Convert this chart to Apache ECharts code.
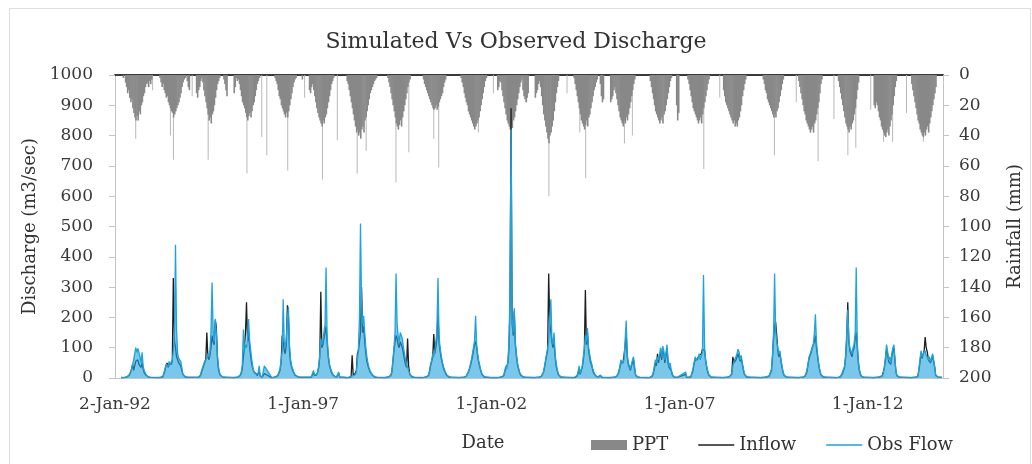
<!DOCTYPE html>
<html>
<head>
<meta charset="utf-8">
<script src="https://cdn.jsdelivr.net/npm/echarts@6/dist/echarts.min.js"></script>
<style>
  html, body { margin: 0; padding: 0; background: #fff; }
  #chart { width: 1032px; height: 464px; }
</style>
</head>
<body>
<div id="chart"></div>
<script>
// one row per year, values every 10 days (1st, 11th, 21st) from 1 March to 21 December
var years = [1992, 1993, 1994, 1995, 1996, 1997, 1998, 1999, 2000, 2001, 2002,
  2003, 2004, 2005, 2006, 2007, 2008, 2009, 2010, 2011, 2012, 2013]

// rainfall, mm (right axis, hanging from the top)
var pptMm = [
  [0,0,2,0,5,8,12,10,15,18,16,22,25,28,30,27,30,24,26,20,18,14,12,8,6,5,8,4,6,3],
  [0,2,5,8,6,10,12,15,14,18,20,22,24,25,28,26,24,22,20,18,15,12,8,5,3,2,0,4,8,10],
  [12,15,10,8,4,2,5,10,14,18,22,26,30,28,32,26,24,20,15,10,6,4,2,0,0,0,3,6,10,14],
  [12,8,2,4,3,6,10,14,18,20,22,25,28,30,27,25,28,24,20,18,14,10,6,4,2,0,0,0,0,0],
  [0,0,0,2,4,6,10,14,16,20,22,24,26,28,25,28,24,20,16,12,8,5,3,2,0,0,0,0,0,3],
  [10,12,8,6,10,14,18,22,25,28,30,32,34,30,32,28,26,22,18,14,10,6,4,2,0,0,0,0,0,0],
  [4,6,10,14,18,22,26,30,34,38,36,40,38,42,36,34,38,30,28,24,20,16,12,10,8,6,4,3,2,0],
  [0,0,0,2,5,8,12,16,20,24,28,32,34,36,33,30,34,28,24,20,16,12,8,5,3,0,0,0,0,0],
  [0,3,6,8,10,12,14,16,18,20,22,23,22,20,23,21,18,16,14,12,8,5,3,0,0,0,0,0,0,0],
  [0,2,5,8,12,15,18,20,24,26,28,30,32,34,36,34,32,30,28,24,20,16,12,8,4,2,0,0,0,0],
  [10,8,4,5,10,14,18,22,26,30,32,34,36,33,35,30,28,24,20,16,12,8,5,3,10,14,16,18,15,12],
  [15,12,10,6,4,8,14,20,26,30,34,38,42,45,40,38,34,30,24,18,12,8,4,0,0,0,0,0,0,0],
  [0,2,6,10,14,18,22,26,30,32,34,36,33,30,34,28,26,22,18,14,10,8,5,3,0,0,6,14,18,16],
  [18,16,14,10,8,12,16,20,24,28,30,32,34,30,32,28,30,26,22,18,14,10,6,3,0,0,0,0,0,0],
  [0,0,4,8,12,16,20,24,26,28,30,32,30,28,32,26,24,20,16,12,8,4,2,0,0,0,0,20,30,25],
  [0,0,3,6,10,14,18,22,24,26,28,30,32,30,28,32,26,22,18,14,10,6,3,0,0,0,0,0,0,0],
  [10,14,18,20,22,24,26,28,30,32,30,34,32,34,30,28,24,20,14,10,6,3,0,0,0,0,0,0,0,0],
  [0,0,3,6,10,12,16,18,20,22,24,26,28,26,28,24,22,18,14,10,6,3,0,0,0,0,0,0,0,0],
  [4,8,12,16,20,24,26,30,32,34,36,38,36,34,38,32,30,26,22,18,12,6,3,0,0,0,0,0,0,0],
  [0,0,4,8,12,16,20,24,28,32,34,36,38,34,36,32,30,26,22,16,10,5,0,0,0,0,0,0,0,0],
  [20,22,18,20,24,28,30,34,36,38,40,41,38,36,40,34,30,26,20,14,8,4,0,0,0,0,0,0,0,0],
  [6,10,14,18,22,26,30,32,36,38,40,41,38,40,36,34,38,32,28,24,20,16,12,8,0,0,0,0,0,0]
]

// single wet days that stand out below the dense rain
var pptSpikeDates = ['1992-07-21','1992-11-20','1993-01-01','1993-06-23','1993-07-22','1994-01-20',
  '1994-06-24','1995-07-05','1995-11-26','1996-01-14','1996-08-04','1997-01-15','1997-07-07',
  '1997-11-28','1998-06-09','1998-09-04','1999-06-20','1999-10-23','2000-06-21','2000-08-08',
  '2001-08-28','2002-01-20','2002-12-10','2003-07-13','2004-01-05','2004-05-08','2004-07-04',
  '2005-07-15','2005-09-30','2007-08-24','2008-01-26','2009-07-09','2010-02-06','2010-09-06',
  '2011-02-07','2011-06-22','2011-09-07','2012-01-30','2012-06-03','2012-08-29','2013-01-11',
  '2013-06-24']
var pptSpikeMm = [42,8,10,40,56,14,56,65,41,53,63,15,69,43,65,50,71,51,42,61,38,12,18,80,12,38,68,
  45,40,62,15,53,18,57,29,53,48,23,44,44,25,44]

// simulated inflow, m3/s
var inflowQ = [
  [1,1,1,2,2,3,4,6,10,18,30,45,25,40,55,50,60,45,40,35,50,30,18,12,8,5,3,2,2,1],
  [1,2,2,3,4,8,25,40,50,35,45,40,45,55,330,120,100,70,60,50,45,40,25,12,6,4,3,2,2,2],
  [2,2,2,3,8,20,30,40,50,60,150,70,60,75,100,140,120,110,190,170,70,30,15,8,5,3,3,2,2,2],
  [1,1,2,2,3,5,8,15,30,70,100,150,250,120,150,100,70,45,30,20,25,15,8,10,20,6,4,3,5,15],
  [1,2,2,3,4,5,8,12,25,50,140,120,90,80,110,240,200,90,50,35,25,18,10,7,5,4,3,3,2,2],
  [2,2,3,10,18,8,6,10,18,35,70,285,100,110,130,150,170,120,70,45,30,20,12,8,5,3,3,4,15,3],
  [1,2,2,3,4,75,10,8,15,25,80,90,120,150,300,150,170,120,80,55,40,30,20,14,10,6,4,3,2,2],
  [1,2,2,3,4,5,8,18,50,90,120,140,130,110,100,120,110,100,80,60,45,35,130,40,12,6,4,3,2,2],
  [1,2,2,3,4,5,8,20,40,55,70,145,80,100,130,210,120,90,65,50,35,25,18,10,6,4,3,2,2,2],
  [1,1,2,2,3,4,5,8,18,28,40,55,70,90,110,120,100,70,50,35,22,12,7,4,3,2,2,2,1,1],
  [1,2,2,3,4,5,7,20,30,25,50,100,250,890,180,140,220,110,70,45,30,18,10,6,4,3,2,2,2,2],
  [1,2,2,2,3,4,5,8,18,35,55,75,90,345,180,150,120,100,120,70,40,25,12,6,4,3,2,2,2,2],
  [1,2,2,3,6,15,30,12,15,35,60,90,290,110,150,90,70,50,40,25,15,10,6,4,3,2,8,3,2,2],
  [1,2,2,2,3,4,5,8,18,35,50,45,50,55,100,150,70,45,35,25,40,50,60,30,8,4,3,2,2,2],
  [1,2,2,3,6,15,30,50,40,80,50,70,85,60,90,80,50,70,100,50,35,40,25,12,5,3,2,2,2,2],
  [12,2,2,2,3,4,8,25,45,60,55,60,65,75,70,80,95,90,90,55,35,20,10,5,3,2,2,2,2,2],
  [1,2,2,2,3,4,5,7,12,70,50,55,60,70,80,75,55,65,45,25,12,6,4,3,2,2,2,2,2,2],
  [1,2,2,2,3,3,4,5,7,9,25,70,130,170,185,140,90,70,80,55,35,18,8,5,3,2,2,2,2,2],
  [1,2,2,2,3,4,5,8,20,45,65,75,85,100,95,120,140,100,70,45,25,12,6,4,3,2,2,2,2,2],
  [1,2,2,3,4,8,15,12,35,70,130,250,120,90,80,70,90,100,130,150,100,50,25,12,5,3,2,2,2,2],
  [1,2,2,2,3,3,4,5,7,12,35,60,95,80,55,60,45,70,90,100,55,18,7,4,3,2,2,2,2,2],
  [1,2,2,2,3,3,5,25,50,80,65,70,90,135,100,85,60,65,50,60,75,70,35,8,4,3,2,2,2,2]
]

// observed flow, m3/s
var obsQ = [
  [2,2,2,3,3,4,5,8,12,20,30,25,60,80,100,85,98,92,70,50,85,40,25,20,10,6,4,3,3,2],
  [2,2,3,3,4,10,30,45,50,40,55,45,50,60,90,150,440,160,80,65,60,55,35,15,8,5,4,3,3,2],
  [2,2,3,4,10,25,35,45,55,60,65,80,70,90,150,315,160,120,195,150,80,40,20,10,6,4,3,3,2,2],
  [2,2,2,3,4,6,10,20,40,160,90,110,100,130,195,120,90,60,35,20,15,12,8,15,40,8,5,4,10,40],
  [2,2,2,3,4,6,10,15,30,60,90,260,120,100,130,200,235,110,60,40,30,20,12,8,6,5,4,3,3,3],
  [3,3,4,15,25,10,8,12,20,40,80,130,110,120,150,180,365,140,80,50,35,25,15,10,6,4,3,5,20,4],
  [2,2,3,4,5,10,8,6,10,20,60,100,200,510,250,180,205,150,100,70,50,35,25,18,12,8,5,4,3,3],
  [2,2,3,3,4,6,10,20,60,100,150,345,180,140,120,150,140,130,100,80,60,45,35,25,15,8,5,4,3,3],
  [2,2,2,3,4,6,10,25,45,60,80,70,90,120,150,330,140,100,75,55,40,30,20,12,8,5,4,3,3,2],
  [2,2,2,3,3,4,6,10,20,30,45,60,80,100,120,205,110,80,55,40,25,15,8,5,4,3,3,2,2,2],
  [2,2,2,3,4,6,8,25,40,30,60,120,300,820,200,150,230,120,80,50,35,20,12,8,5,4,3,3,2,2],
  [2,2,2,3,3,4,6,10,20,40,60,80,100,120,200,260,130,110,150,80,50,30,15,8,5,4,3,3,2,2],
  [2,2,3,4,8,20,40,15,20,40,70,100,140,120,165,100,80,60,45,30,20,12,8,5,4,3,10,4,3,2],
  [2,2,2,3,3,4,6,10,20,40,60,50,55,60,120,190,80,50,40,30,45,60,70,40,10,5,4,3,3,2],
  [2,2,2,3,8,20,40,60,50,70,60,80,100,70,105,90,60,80,110,60,40,50,30,15,6,4,3,3,2,2],
  [20,3,2,3,3,4,10,30,50,70,60,65,70,80,60,75,85,340,100,60,40,25,12,6,4,3,3,2,2,2],
  [2,2,2,3,3,4,5,8,15,40,55,60,70,80,95,85,60,75,50,30,15,8,5,4,3,3,2,2,2,2],
  [2,2,2,3,3,4,5,6,8,10,30,80,150,345,160,120,100,80,90,60,40,20,10,6,4,3,3,2,2,2],
  [2,2,2,3,3,4,6,10,25,50,70,80,90,100,110,150,210,120,80,50,30,15,8,5,4,3,3,2,2,2],
  [2,2,2,3,4,10,20,15,40,80,150,225,130,100,90,80,100,110,150,365,120,60,30,15,6,4,3,3,2,2],
  [2,2,2,3,3,4,5,6,8,15,40,70,110,90,60,70,50,80,100,110,60,20,8,5,4,3,3,2,2,2],
  [2,2,2,3,3,4,6,30,60,90,70,80,85,90,75,80,60,70,55,65,80,75,40,10,5,4,3,3,2,2]
]

var tickDates = ['1992-01-02', '1997-01-01', '2002-01-01', '2007-01-01', '2012-01-01']
var tickLabels = ['2-Jan-92', '1-Jan-97', '1-Jan-02', '1-Jan-07', '1-Jan-12']

function parseDay(s) {
  var p = s.split('-')
  return new Date(+p[0], +p[1] - 1, +p[2]).getTime()
}
function dekad(year, i) {
  return new Date(year, 2 + Math.floor(i / 3), 1 + 10 * (i % 3)).getTime()
}

var pptData = [], inflowData = [], obsData = []
for (var y = 0; y < years.length; y++) {
  for (var i = 0; i < 30; i++) {
    var t = dekad(years[y], i)
    pptData.push([t, pptMm[y][i]])
    inflowData.push([t, inflowQ[y][i]])
    obsData.push([t, obsQ[y][i]])
  }
}
var spikeData = pptSpikeDates.map(function (d, k) { return [parseDay(d), pptSpikeMm[k]] })
var tickTimes = tickDates.map(parseDay)

var xMin = parseDay('1992-01-02')
var xMax = parseDay('2013-12-31')
var font = 'DejaVu Serif'
var txt = '#3a3a3a'
var lineIcon = 'path://M0,0 L36,0 L36,1.6 L0,1.6 Z'

var chart = echarts.init(document.getElementById('chart'))
chart.setOption({
  animation: false,
  backgroundColor: '#fff',
  graphic: [{
    type: 'rect',
    shape: { x: 9.5, y: 8.5, width: 1021, height: 470 },
    style: { fill: 'none', stroke: '#dedede', lineWidth: 1 },
    silent: true
  }],
  title: {
    text: 'Simulated Vs Observed Discharge',
    left: 'center',
    top: 26,
    textStyle: { fontFamily: font, fontSize: 22, fontWeight: 'normal', color: '#333' }
  },
  legend: {
    data: [
      { name: 'PPT', icon: 'rect' },
      { name: 'Inflow', icon: lineIcon },
      { name: 'Obs Flow', icon: lineIcon }
    ],
    left: 586,
    top: 431,
    itemWidth: 36,
    itemHeight: 10,
    itemGap: 30,
    selectedMode: false,
    textStyle: { fontFamily: font, fontSize: 18, color: '#333' }
  },
  grid: { left: 115, right: 85, top: 75, bottom: 86 },
  xAxis: [
    {
      // dates kept as millisecond values so that the five labels can be placed exactly
      type: 'value',
      min: xMin,
      max: xMax,
      axisLine: { lineStyle: { color: '#c4c4c4', width: 1 } },
      axisTick: { show: false },
      splitLine: { show: false },
      axisLabel: {
        customValues: tickTimes,
        margin: 18,
        fontFamily: font,
        fontSize: 17,
        color: txt,
        formatter: function (v) {
          var best = 0
          for (var k = 1; k < tickTimes.length; k++) {
            if (Math.abs(tickTimes[k] - v) < Math.abs(tickTimes[best] - v)) best = k
          }
          return tickLabels[best]
        }
      },
      name: 'Date',
      nameLocation: 'middle',
      nameGap: 56,
      nameTextStyle: { fontFamily: font, fontSize: 18, color: '#333', padding: [0, 92, 0, 0] }
    },
    {
      type: 'value',
      position: 'top',
      min: xMin,
      max: xMax,
      axisLine: { lineStyle: { color: '#3a3a3a', width: 2 } },
      axisTick: { show: false },
      axisLabel: { show: false },
      splitLine: { show: false }
    }
  ],
  yAxis: [
    {
      type: 'value',
      position: 'left',
      min: 0,
      max: 1000,
      interval: 100,
      axisLine: { show: true, lineStyle: { color: '#c4c4c4' } },
      axisTick: { show: true, length: 6, lineStyle: { color: '#c4c4c4' } },
      splitLine: { show: false },
      axisLabel: {
        margin: 22, fontFamily: font, fontSize: 17, color: txt,
        formatter: function (v) { return String(v) }
      },
      name: 'Discharge (m3/sec)',
      nameLocation: 'middle',
      nameGap: 68,
      nameTextStyle: { fontFamily: font, fontSize: 18, color: '#333' }
    },
    {
      type: 'value',
      position: 'right',
      inverse: true,
      min: 0,
      max: 200,
      interval: 20,
      axisLine: { show: true, lineStyle: { color: '#c4c4c4' } },
      axisTick: { show: true, length: 6, lineStyle: { color: '#c4c4c4' } },
      splitLine: { show: false },
      axisLabel: { margin: 16, fontFamily: font, fontSize: 17, color: txt },
      name: 'Rainfall (mm)',
      nameLocation: 'middle',
      nameGap: 63,
      nameTextStyle: { fontFamily: font, fontSize: 18, color: '#333' }
    }
  ],
  series: [
    {
      name: 'PPT',
      type: 'bar',
      yAxisIndex: 1,
      z: 3,
      barWidth: 1.6,
      barGap: '-100%',
      itemStyle: { color: '#888888' },
      data: pptData
    },
    {
      name: 'PPT',
      type: 'bar',
      yAxisIndex: 1,
      z: 2,
      barWidth: 1,
      barGap: '-100%',
      itemStyle: { color: '#b8b8b8' },
      data: spikeData
    },
    {
      name: 'Inflow',
      type: 'line',
      yAxisIndex: 0,
      symbol: 'none',
      z: 4,
      lineStyle: { color: '#1e1e1e', width: 1.3 },
      itemStyle: { color: '#1e1e1e' },
      data: inflowData
    },
    {
      name: 'Obs Flow',
      type: 'line',
      yAxisIndex: 0,
      symbol: 'none',
      z: 5,
      lineStyle: { color: '#1fa3dd', width: 1.3 },
      itemStyle: { color: '#1fa3dd' },
      areaStyle: { color: '#1fa3dd', opacity: 0.6 },
      data: obsData
    }
  ]
})
</script>
</body>
</html>
